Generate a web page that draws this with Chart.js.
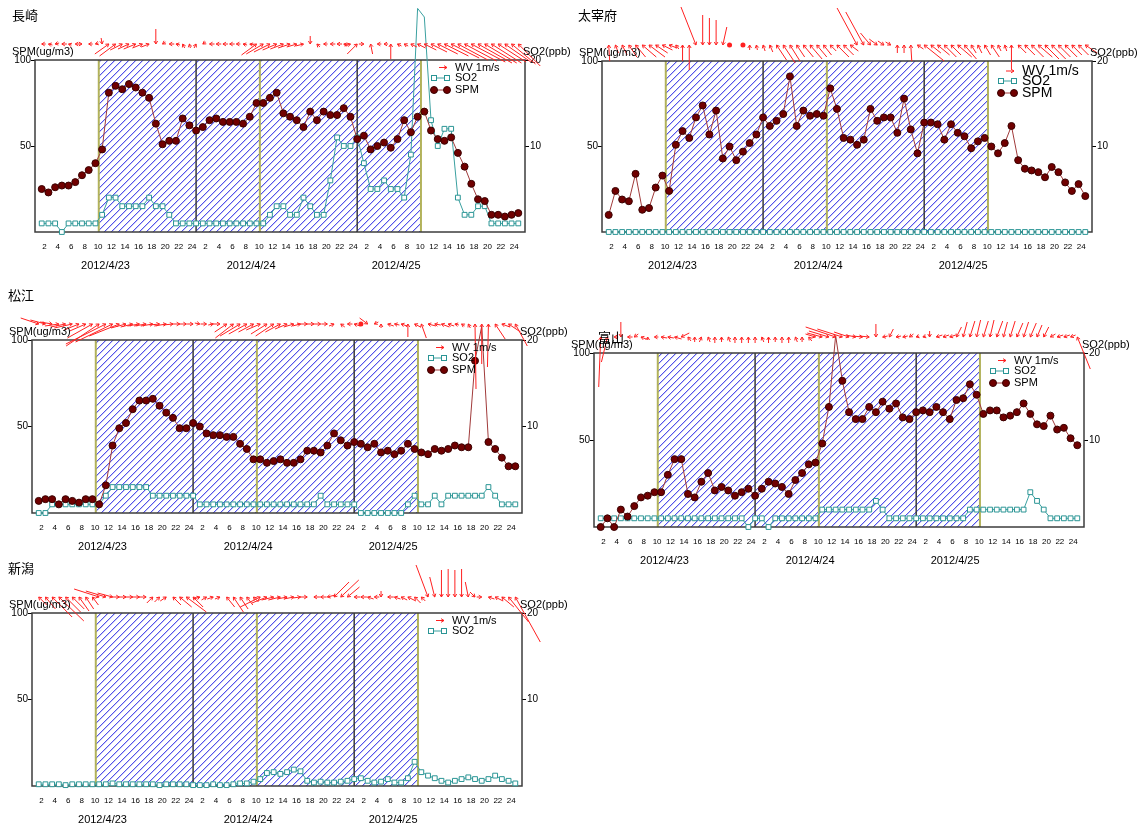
<!DOCTYPE html>
<html><head><meta charset="utf-8">
<script src="https://cdn.jsdelivr.net/npm/chart.js@4.4.0/dist/chart.umd.min.js"></script>
<style>
html,body{margin:0;padding:0;background:#fff;}
body{width:1141px;height:829px;position:relative;overflow:hidden;}
canvas{position:absolute;}
</style></head><body>
<script>
// ---------------- DATA ----------------
const hourLabels = ['2','4','6','8','10','12','14','16','18','20','22','24'];
const dateLabels = ['2012/4/23','2012/4/24','2012/4/25'];
const dateLabelHours = [10.5, 32.2, 53.8];
const hatchHours = [9.5, 57.5];
const dayLineHours = [24, 48];
const tenLineHours = [9.5, 33.5, 57.5];
const legendLabels = ['WV 1m/s', 'SO2', 'SPM'];
const stationNames = ['長崎', '太宰府', '松江', '富山', '新潟'];

// 長崎
const nagasakiSPM = [25,23,26,27,27,29,33,36,40,48, 81,85,83,86,84,81,78,63,51,53, 53,66,62,59,61,65,66,64,64,64, 63,67,75,75,78,81,69,67,65,61, 70,65,70,68,68,72,67,54,56,48, 50,52,49,54,65,58,67,70,59,54, 53,55,46,38,28,19,18,10,10,9, 10,11];
const nagasakiSO2 = [1,1,1,0,1,1,1,1,1,2, 4,4,3,3,3,3,4,3,3,2, 1,1,1,1,1,1,1,1,1,1, 1,1,1,1,2,3,3,2,2,4, 3,2,2,6,11,10,10,11,8,5, 5,6,5,5,4,9,26,25,13,10, 12,12,4,2,2,3,3,1,1,1, 1,1];
const nagasakiWindU = [-0.4,-0.4,-0.4,-0.5,-0.3,-0.4,0.3,-0.4,-0.3, 0.1, 1.4,1.6,1.2,1.1,1.2,1.0,0.8, 0, -0.3,-0.5,-0.4,-0.2,-0.1,0.2, -0.3,-0.5,-0.5,-0.5,-0.5,-0.4,-0.4,-0.4, 1.5,1.7,1.6,1.4,1.3,1.2,1.0,0.8, 0,-0.3,-0.4,-0.5,-0.5,-0.4,0.6,1.0, 0.5,-0.2,-0.4,-0.4,0,-0.4,-0.4, -0.6,-0.8,-1.2,-1.6,-2.0,-2.4,-2.8,-3.0,-3.2,-3.4,-3.4,-3.2,-3.0,-2.8,-2.6,-2.4,-2.2];
const nagasakiWindV = [0,0.1,-0.1,0,0.1,0,0,0,-0.1, -0.6, 1.0,1.2,0.6,0.5,0.5,0.4,0.3, -1.5, -0.2,0,0.1,0.4,0.4,0.4, -0.2,0,0,0,0,0,0.1,0.1, 1.1,1.0,0.8,0.6,0.5,0.4,0.3,0.2, -0.8,0.3,0,0,0,0.1,0.2,1.0, 0,1.0,0,0,1.5,0.2,0.2, 0.3,0.4,0.6,0.8,1.0,1.2,1.4,1.6,1.7,1.8,1.9,1.9,1.9,1.8,1.8,2.0,2.2];

// 太宰府
const dazaifuSPM = [10,24,19,18,34,13,14,26,33,24, 51,59,55,67,74,57,71,43,50,42, 47,52,57,67,62,65,69,91,62,71, 68,69,68,84,72,55,54,51,54,72, 65,67,67,58,78,60,46,64,64,63, 54,63,58,56,49,53,55,50,46,52, 62,42,37,36,35,32,38,35,29,24, 28,21];
const dazaifuSO2 = [0,0,0,0,0,0,0,0,0,0,0,0, 0,0,0,0,0,0,0,0,0,0,0,0, 0,0,0,0,0,0,0,0,0,0,0,0, 0,0,0,0,0,0,0,0,0,0,0,0, 0,0,0,0,0,0,0,0,0,0,0,0, 0,0,0,0,0,0,0,0,0,0,0,0];
const dazaifuWindU = [-0.1,-0.3,-0.5,-0.8,-1.0,-1.4,-1.6,-1.2,-1.0,-0.8, -0.3,0,0,1.5,0,0,0,-0.4, 0,null,0, 0,-0.1,-0.2,-0.3,-1.0,-1.2,-1.0,-0.8,-1.0,-1.2,-1.0,-0.8, -0.6,-1.2,-1.0,-0.8,2.0,1.8,1.0,0.8,0.6,0.5, 0,0,-0.1,-0.6,-2.0,-1.0,-1.2,-1.2,-1.0,-1.4,-1.2, -0.5,-0.4,-0.6,-0.8,-0.3,-0.2,0, -0.8,-1.0,-1.2,-1.4,-1.4,-1.4,-1.2,-1.2,-1.0,-1.0,-1.2];
const dazaifuWindV = [1.6,0.8,1.0,1.2,1.2,1.2,1.2,0.8,0.5,0.3, 0.4,1.6,2.5,-3.8,-3.0,-2.7,-2.5,-1.8, 0,null,0, 0.5,0.5,0.6,0.7,1.5,1.8,1.6,1.2,1.2,1.4,1.2,1.0, 0.6,1.2,1.0,0.6,-3.7,-3.3,-1.2,-0.6,-0.4,-0.3, 0.8,0.8,1.6,0.4,1.6,0.8,1.0,1.2,1.0,1.2,1.4, 0.8,0.8,1.0,1.2,0.6,0.6,2.4, 0.8,1.0,1.2,1.2,1.4,1.4,1.2,1.2,1.0,1.0,0.8];

// 松江
const matsueSPM = [7,8,8,5,8,7,6,8,8,5, 16,39,49,52,60,65,65,66,62,58, 55,49,49,52,50,46,45,45,44,44, 40,37,31,31,29,30,31,29,29,31, 36,36,35,39,46,42,39,41,40,38, 40,35,36,34,36,40,37,35,34,37, 36,37,39,38,38,88,108,41,37,32, 27,27];
const matsueSO2 = [0,0,1,1,1,1,1,1,1,1, 2,3,3,3,3,3,3,2,2,2, 2,2,2,2,1,1,1,1,1,1, 1,1,1,1,1,1,1,1,1,1, 1,1,2,1,1,1,1,1,0,0, 0,0,0,0,0,1,2,1,1,2, 1,2,2,2,2,2,2,3,2,1, 1,1];
const matsueWindU = [1.8,1.5,1.2,1.4,1.5,1.8,1.5,1.6,2.5,3.3,4.0,3.7,3.0,1.5,1.2,1.2,1.2,1.2,1.0,1.2,1.0,0.8,0.8,0.6, 0.5,0.6,0.5,0.8,1.2,1.8,2.0,1.8,1.5,1.4,1.6,1.8,1.5,1.2,1.0,0.8,1.0,0.8,0.7,0.6, 0.5,-0.4,-0.5,-0.6,0,0.8,-0.4,0,-0.6,-0.5,-0.6,0,-0.6,-0.5,-0.8,-0.6,-0.8,-0.6,-0.4,-0.3,-0.2,-0.1,0,0.1,-1.0,-0.8,-1.2,-1.2];
const matsueWindV = [-0.6,-0.4,-0.2,0.2,0.3,0.4,0.6,0.7,1.4,2.2,2.0,1.8,1.2,0.4,0.3,0.2,0.2,0.2,0.1,0.2,0.1,0,0,0, -0.1,0,0.1,0,0.8,1.4,1.2,1.0,0.8,0.6,1.0,1.2,0.8,0.5,0.3,0.2,0,0,0,0, 0.2,0.3,0,0.2,0,-0.6,-0.2,0.4,0.2,0.1,0.2,1.3,0.3,1.4,0.2,0.1,0.3,0.2,0.1,0.2,0.4,6.5,4.0,4.3,1.5,0.3,0.8,2.2];

// 富山
const toyamaSPM = [0,5,0,10,6,12,17,18,20,20, 30,39,39,19,17,26,31,21,23,21, 18,20,22,18,22,26,25,23,19,27, 31,36,37,48,69,110,84,66,62,62, 69,66,72,68,71,63,62,66,67,66, 69,66,62,73,74,82,76,65,67,67, 63,64,66,71,65,59,58,64,56,57, 51,47];
const toyamaSO2 = [1,1,1,1,1,1,1,1,1,1, 1,1,1,1,1,1,1,1,1,1, 1,1,0,1,1,0,1,1,1,1, 1,1,1,2,2,2,2,2,2,2, 2,3,2,1,1,1,1,1,1,1, 1,1,1,1,1,2,2,2,2,2, 2,2,2,2,4,3,2,1,1,1, 1,1];
const toyamaWindU = [0.2,0.6,-0.4,0,-0.5,-0.4,-0.5,0,-0.4,-0.6,-0.6,-0.7,-0.8,-0.3,0,0.2,-0.2,0,0,-0.2,0,0,0,0,-0.2,0,0,0,0,-0.2,0,-0.3,1.0,1.5,2.0,3.0,2.5,1.5,1.0,1.0,1.0,0,-0.5,-0.4,-0.5,-0.5,-0.4,-0.3,-0.3,0,-0.6,-0.6,-0.6,-0.5,-0.4,-0.5,-0.4,-0.5,-0.4,-0.6,-0.4,-0.5,-0.6,-0.5,-0.6,-0.5,-0.5,-0.5,-0.6,-0.6,-0.5,-1.3];
const toyamaWindV = [5.0,2.5,0,-1.5,0,-0.3,0.2,0.3,0,0.1,0.1,0.2,-0.4,0.4,0.5,0.5,0.5,0.6,0.5,0.5,0.6,0.6,0.6,0.6,0.5,0.6,0.5,0.6,0.6,0.5,0.5,0.4,-0.3,-0.4,-0.6,-1.0,-0.8,-0.5,-0.2,-0.1,-0.1,-1.3,-0.1,-0.8,-0.1,-0.1,-0.3,-0.1,-0.1,-0.6,-0.2,-0.2,-0.2,-1.0,-1.5,-1.6,-1.7,-1.6,-1.7,-1.6,-1.5,-1.6,-1.4,-1.5,-1.4,-1.2,-1.0,-0.3,-0.2,-0.2,-0.2,3.2];

// 新潟
const niigataSO2 = [0.2,0.2,0.2,0.2,0.1,0.2,0.2,0.2,0.2,0.2, 0.2,0.3,0.2,0.2,0.2,0.2,0.2,0.2,0.1,0.2, 0.2,0.2,0.2,0.1,0.1,0.1,0.2,0.1,0.1,0.2, 0.3,0.3,0.5,0.8,1.5,1.6,1.4,1.6,1.9,1.7, 0.6,0.4,0.5,0.4,0.4,0.5,0.6,0.8,0.9,0.6, 0.4,0.5,0.8,0.4,0.4,0.9,2.8,1.6,1.2,0.9, 0.6,0.4,0.6,0.8,1.0,0.8,0.6,0.8,1.2,0.8, 0.6,0.3];
const niigataWindU = [-0.8,-1.0,-2.0,-2.5,-1.5,-1.2,-1.0,-0.8,-0.6,2.5,2.0,1.5,0.8,0.8,0.8,0.8,0.8,0.6,0.5,0.6,-0.8,-1.2,-2.0,-1.0,0.6,0.5,0.6,0.5,-0.8,-1.0,-0.8,-0.6,-0.5,2.0,1.5,1.2,1.2,1.0,1.0,0.8,0.8,-0.6,-0.6,-0.8,-1.5,-1.8,-1.2,-0.6,-0.6,-0.6,-0.5,0,-0.6,-0.6,-0.6,-0.8,-0.6,-0.4,1.2,0.5,0,0,0,0,0.3,0.5,0.5,-0.6,-0.8,-1.2,-2.0,-2.5];
const niigataWindV = [0.8,1.2,2.0,2.4,1.5,1.2,1.4,1.2,0.8,-0.8,-0.6,-0.4,0,0,0,0,0,0.6,0.5,0.4,0.8,1.0,1.5,1.0,0.2,0.3,0.2,0.2,1.0,1.5,1.2,0.8,0.5,1.0,0.6,0.3,0.3,0.2,0.2,0.1,0,0,0,-0.2,-1.5,-1.7,-1.0,0,0,0.2,0,-0.6,0,0.2,0.3,0.4,0.6,0.4,-3.2,-2.0,-2.7,-2.8,-2.7,-2.8,-1.5,-0.5,0,0.2,0.4,1.0,2.5,4.5];

// ---------------- LAYOUT / STYLE ----------------
const FONT = '"Liberation Sans", Arial, sans-serif';
const JFONT = '"Noto Sans CJK JP", sans-serif';
const WIND_PX = 10;       // px per m/s
const AXW = 22, AXH = 40;

const panels = [
  {title: stationNames[0], spm: nagasakiSPM, so2: nagasakiSO2, wu: nagasakiWindU, wv: nagasakiWindV,
   box: [0, 0, 570, 285], plot: [35, 60, 525, 232], titleAt: [-23, -45], lf: 11},
  {title: stationNames[1], spm: dazaifuSPM, so2: dazaifuSO2, wu: dazaifuWindU, wv: dazaifuWindV,
   box: [570, 0, 571, 285], plot: [602, 61, 1092, 232], titleAt: [-24, -46], lf: 14},
  {title: stationNames[2], spm: matsueSPM, so2: matsueSO2, wu: matsueWindU, wv: matsueWindV,
   box: [0, 285, 570, 280], plot: [32, 340, 522, 513], titleAt: [-24, -45], lf: 11},
  {title: stationNames[3], spm: toyamaSPM, so2: toyamaSO2, wu: toyamaWindU, wv: toyamaWindV,
   box: [565, 310, 576, 270], plot: [594, 353, 1084, 527], titleAt: [4, -16], lf: 11},
  {title: stationNames[4], spm: null, so2: niigataSO2, wu: niigataWindU, wv: niigataWindV,
   box: [0, 560, 570, 269], plot: [32, 613, 522, 786], titleAt: [-24, -45], lf: 11}
];

const xTickValues = [];
for (let d = 0; d < dateLabels.length; d++) hourLabels.forEach(l => xTickValues.push(d * 24 + Number(l)));

function hatchPattern(ctx) {
  const n = 7;
  const c = document.createElement('canvas'); c.width = n; c.height = n;
  const g = c.getContext('2d');
  for (let i = 0; i < n; i++) {
    g.fillStyle = '#5252ea'; g.fillRect(i, n - 1 - i, 1, 1);
    g.fillStyle = '#c9c9f7'; g.fillRect((i + 1) % n, n - 1 - i, 1, 1);
  }
  return ctx.createPattern(c, 'repeat');
}

function arrow(ctx, tx, ty, dx, dy) {
  const len = Math.hypot(dx, dy);
  if (len < 0.5) {
    ctx.beginPath(); ctx.arc(tx, ty, 2.5, 0, Math.PI * 2); ctx.fill(); return;
  }
  ctx.beginPath(); ctx.moveTo(tx - dx, ty - dy); ctx.lineTo(tx, ty); ctx.stroke();
  const a = Math.atan2(dy, dx), hl = 3.5;
  ctx.beginPath();
  ctx.moveTo(tx - hl * Math.cos(a - 0.55), ty - hl * Math.sin(a - 0.55));
  ctx.lineTo(tx, ty);
  ctx.lineTo(tx - hl * Math.cos(a + 0.55), ty - hl * Math.sin(a + 0.55));
  ctx.stroke();
}

function makePlugin(p) {
  return {
    id: 'decor',
    beforeDatasetsDraw(chart) {
      const ctx = chart.ctx, a = chart.chartArea, x = chart.scales.x;
      ctx.save();
      const h0 = x.getPixelForValue(hatchHours[0]), h1 = x.getPixelForValue(hatchHours[1]);
      ctx.fillStyle = hatchPattern(ctx);
      ctx.fillRect(h0, a.top, h1 - h0, a.bottom - a.top);
      ctx.lineWidth = 1.5; ctx.strokeStyle = '#3a3a3a';
      dayLineHours.forEach(h => { const px = x.getPixelForValue(h); ctx.beginPath(); ctx.moveTo(px, a.top); ctx.lineTo(px, a.bottom); ctx.stroke(); });
      ctx.lineWidth = 2; ctx.strokeStyle = '#b2b25a';
      tenLineHours.forEach(h => { const px = x.getPixelForValue(h); ctx.beginPath(); ctx.moveTo(px, a.top); ctx.lineTo(px, a.bottom); ctx.stroke(); });
      ctx.lineWidth = 1.5; ctx.strokeStyle = '#3c3c3c';
      ctx.strokeRect(a.left, a.top, a.right - a.left, a.bottom - a.top);
      ctx.restore();
    },
    afterDatasetsDraw(chart) {
      const ctx = chart.ctx, a = chart.chartArea, x = chart.scales.x;
      ctx.save();
      // wind vectors
      ctx.strokeStyle = '#ff2020'; ctx.fillStyle = '#ff2020'; ctx.lineWidth = 1;
      const rowY = a.top - 16;
      p.wu.forEach((u, i) => {
        const v = p.wv[i];
        if (u === null || v === null) return;
        arrow(ctx, x.getPixelForValue(i + 1), rowY, u * WIND_PX, -v * WIND_PX);
      });
      // legend
      const R = a.right, T = a.top;
      const rows = p.lf > 12 ? [10, 20, 32] : [7.5, 18, 30];
      ctx.font = p.lf + 'px ' + FONT; ctx.textBaseline = 'middle'; ctx.textAlign = 'left';
      ctx.strokeStyle = '#ff2020'; ctx.lineWidth = 1;
      arrow(ctx, R - 78, T + rows[0], 8, 0);
      ctx.fillStyle = '#000'; ctx.fillText(legendLabels[0], R - 70, T + rows[0]);
      ctx.strokeStyle = '#3aa0a0'; ctx.beginPath(); ctx.moveTo(R - 91, T + rows[1]); ctx.lineTo(R - 78, T + rows[1]); ctx.stroke();
      ctx.fillStyle = '#fff'; ctx.strokeStyle = '#2a9595';
      [R - 91, R - 78].forEach(px => { ctx.fillRect(px - 2.5, T + rows[1] - 2.5, 5, 5); ctx.strokeRect(px - 2.5, T + rows[1] - 2.5, 5, 5); });
      ctx.fillStyle = '#000'; ctx.fillText(legendLabels[1], R - 70, T + rows[1]);
      if (p.spm) {
        ctx.strokeStyle = '#a03a3a'; ctx.beginPath(); ctx.moveTo(R - 91, T + rows[2]); ctx.lineTo(R - 78, T + rows[2]); ctx.stroke();
        ctx.fillStyle = '#700000'; ctx.strokeStyle = '#3a0000';
        [R - 91, R - 78].forEach(px => { ctx.beginPath(); ctx.arc(px, T + rows[2], 3.5, 0, Math.PI * 2); ctx.fill(); ctx.stroke(); });
        ctx.fillStyle = '#000'; ctx.fillText(legendLabels[2], R - 70, T + rows[2]);
      }
      ctx.restore();
    },
    afterDraw(chart) {
      const ctx = chart.ctx, a = chart.chartArea, x = chart.scales.x;
      ctx.save();
      ctx.fillStyle = '#000'; ctx.textBaseline = 'middle';
      ctx.font = '13px ' + JFONT; ctx.textAlign = 'left';
      ctx.fillText(p.title, a.left + p.titleAt[0], a.top + p.titleAt[1]);
      ctx.font = '11px ' + FONT;
      ctx.fillText('SPM(ug/m3)', a.left - 23, a.top - 8);
      ctx.fillText('SO2(ppb)', a.right - 2, a.top - 8);
      ctx.textAlign = 'center';
      dateLabels.forEach((t, i) => ctx.fillText(t, x.getPixelForValue(dateLabelHours[i]), a.bottom + 34));
      ctx.restore();
    }
  };
}

panels.forEach((p, idx) => {
  const [bx, by, bw, bh] = p.box, [pl, pt, pr, pb] = p.plot;
  const cv = document.createElement('canvas');
  cv.width = bw; cv.height = bh;
  cv.style.left = bx + 'px'; cv.style.top = by + 'px';
  cv.style.width = bw + 'px'; cv.style.height = bh + 'px';
  document.body.appendChild(cv);
  const datasets = [];
  if (p.spm) datasets.push({
    label: 'SPM', data: p.spm.map((v, i) => ({x: i + 1, y: v})), yAxisID: 'y',
    borderColor: '#a03a3a', borderWidth: 1, tension: 0, clip: false,
    pointStyle: 'circle', pointRadius: 3.5, pointBackgroundColor: '#700000', pointBorderColor: '#3a0000', pointBorderWidth: 1
  });
  datasets.push({
    label: 'SO2', data: p.so2.map((v, i) => ({x: i + 1, y: v})), yAxisID: 'y2',
    borderColor: '#3aa0a0', borderWidth: 1, tension: 0, clip: false,
    pointStyle: 'rect', pointRadius: 3.4, pointBackgroundColor: '#ffffff', pointBorderColor: '#2a9595', pointBorderWidth: 1
  });
  new Chart(cv, {
    type: 'line',
    data: {datasets},
    options: {
      responsive: false, animation: false, devicePixelRatio: 1,
      events: [],
      layout: {padding: {left: pl - bx - AXW, right: bx + bw - pr - AXW, top: pt - by, bottom: by + bh - pb - AXH}},
      plugins: {legend: {display: false}, tooltip: {enabled: false}, title: {display: false}},
      scales: {
        x: {
          type: 'linear', min: 0, max: 73,
          grid: {display: false, drawTicks: false}, border: {display: false},
          afterBuildTicks: s => { s.ticks = xTickValues.map(v => ({value: v})); },
          afterFit: s => { s.height = AXH; },
          ticks: {
            autoSkip: false, maxRotation: 0, padding: 10, labelOffset: -4, color: '#000',
            font: {family: FONT, size: 8},
            callback: v => hourLabels[(Math.round(v / 2) - 1) % 12]
          }
        },
        y: {
          position: 'left', min: 0, max: 100,
          grid: {display: true, drawOnChartArea: false, drawTicks: true, tickLength: 4, color: '#000'},
          border: {display: false},
          afterBuildTicks: s => { s.ticks = [{value: 50}, {value: 100}]; },
          afterFit: s => { s.width = AXW; },
          ticks: {padding: 0, color: '#000', font: {family: FONT, size: 10}}
        },
        y2: {
          position: 'right', min: 0, max: 20,
          grid: {display: true, drawOnChartArea: false, drawTicks: true, tickLength: 4, color: '#000'},
          border: {display: false},
          afterBuildTicks: s => { s.ticks = [{value: 10}, {value: 20}]; },
          afterFit: s => { s.width = AXW; },
          ticks: {padding: 1, color: '#000', font: {family: FONT, size: 10}}
        }
      }
    },
    plugins: [makePlugin(p)]
  });
});
</script>
</body></html>
